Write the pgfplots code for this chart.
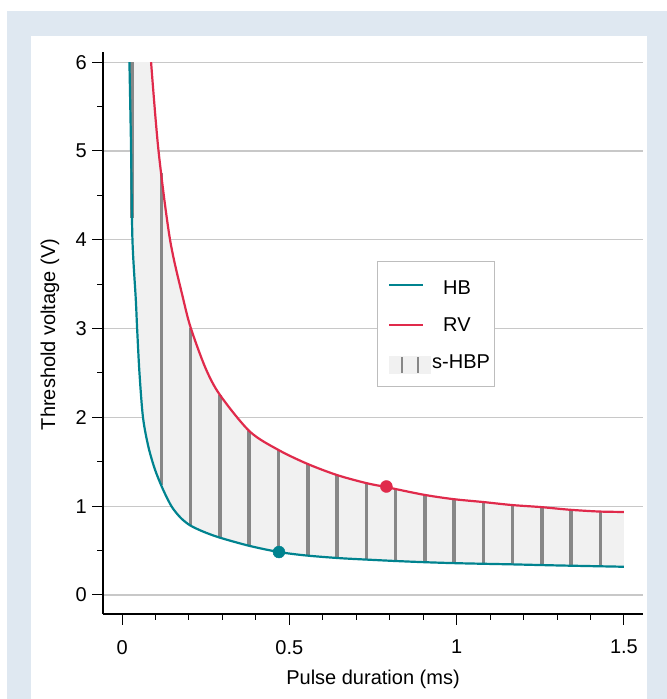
\documentclass[border=0pt]{standalone}
\usepackage{pgfplots}
\pgfplotsset{compat=1.18}
\usepgfplotslibrary{fillbetween}
\usepackage{fontspec}
\setmainfont{Liberation Sans}

\definecolor{frameblue}{HTML}{DFE8F1}
\definecolor{hbcol}{HTML}{00838F}
\definecolor{rvcol}{HTML}{E02A4B}
\definecolor{fillgray}{HTML}{F1F1F1}
\definecolor{stick}{HTML}{878787}
\definecolor{gridgray}{HTML}{C8C8C8}
\definecolor{boxgray}{HTML}{BDBDBD}

% threshold curves (pulse duration in ms, voltage in V)
\pgfplotstableread{
t      v
0.022  6.0
0.027  5.0
0.031  4.0
0.041  3.33
0.045  3.0
0.052  2.5
0.0625 2.0
0.0786 1.67
0.0986 1.41
0.1234 1.18
0.1485 0.994
0.175  0.87
0.203  0.785
0.243  0.713
0.293  0.645
0.382  0.552
0.469  0.484
0.55   0.445
0.65   0.415
0.75   0.395
0.816  0.383
0.9    0.37
1.0    0.358
1.165  0.345
1.3    0.333
1.5    0.318
}\hbdata

\pgfplotstableread{
t      v
0.0867 6.0
0.109  5.0
0.1434 4.0
0.183  3.33
0.206  3.0
0.25   2.55
0.293  2.25
0.382  1.84
0.469  1.63
0.555  1.475
0.643  1.35
0.73   1.26
0.79   1.215
0.9    1.13
0.989  1.08
1.079  1.047
1.165  1.013
1.252  0.99
1.338  0.96
1.425  0.94
1.5    0.935
}\rvdata

\begin{document}
\fontsize{20bp}{24bp}\selectfont
\begin{tikzpicture}
\pgfplotsset{set layers}
\begin{axis}[
  at={(103bp,85bp)}, anchor=south west,
  scale only axis, width=540bp, height=562bp,
  xmin=-0.057, xmax=1.557, ymin=-0.214, ymax=6.115,
  axis x line*=bottom, axis y line*=left,
  axis line style={black, line width=1.3bp, -},
  xtick={0,0.5,1,1.5}, ytick={0,1,2,3,4,5,6},
  minor x tick num=4, minor y tick num=1,
  tick align=outside, major tick length=11bp, minor tick length=6bp,
  tick style={black, line width=1bp},
  ymajorgrids, major grid style={gridgray, line width=1.3bp},
  tick label style={font=\fontsize{20bp}{24bp}\selectfont},
  /pgf/number format/assume math mode=true,
  xticklabel style={anchor=north, inner sep=0pt, yshift=-15bp},
  yticklabel style={anchor=east, inner sep=0pt, xshift=-5bp},
]
\addplot[name path=hb, draw=none, smooth] table[x=t, y=v] {\hbdata};
\addplot[name path=rv, draw=none, smooth] table[x=t, y=v] {\rvdata};
\addplot[fill=fillgray, draw=none] fill between[of=hb and rv];

% vertical bars of the s-HBP region
\addplot[stick, line width=3.5bp, unbounded coords=jump] coordinates {
(0.03,4.25) (0.03,6.0) (0.03,nan)
(0.1175,1.235) (0.1175,4.75) (0.1175,nan)
(0.205,0.78) (0.205,3.01) (0.205,nan)
(0.2925,0.645) (0.2925,2.255) (0.2925,nan)
(0.38,0.553) (0.38,1.845) (0.38,nan)
(0.4675,0.485) (0.4675,1.633) (0.4675,nan)
(0.555,0.445) (0.555,1.475) (0.555,nan)
(0.6425,0.417) (0.6425,1.35) (0.6425,nan)
(0.73,0.398) (0.73,1.26) (0.73,nan)
(0.8175,0.383) (0.8175,1.194) (0.8175,nan)
(0.905,0.369) (0.905,1.127) (0.905,nan)
(0.9925,0.358) (0.9925,1.079) (0.9925,nan)
(1.08,0.351) (1.08,1.047) (1.08,nan)
(1.1675,0.345) (1.1675,1.012) (1.1675,nan)
(1.255,0.337) (1.255,0.989) (1.255,nan)
(1.3425,0.329) (1.3425,0.96) (1.3425,nan)
(1.43,0.323) (1.43,0.94)
};

\addplot[hbcol, line width=2.2bp, smooth] table[x=t, y=v] {\hbdata};
\addplot[rvcol, line width=2.2bp, smooth] table[x=t, y=v] {\rvdata};

\addplot[only marks, mark=*, mark size=6bp, hbcol] coordinates {(0.469,0.484)};
\addplot[only marks, mark=*, mark size=6bp, rvcol] coordinates {(0.79,1.222)};
\end{axis}

% page background and panel, below every axis layer
\begin{pgfonlayer}{axis background}
\fill[white] (0,0) rectangle (667bp,699bp);
\fill[frameblue] (7bp,0) rectangle (667bp,688bp);
\fill[white] (31bp,0) rectangle (647bp,663bp);
\end{pgfonlayer}

% axis titles
\node[anchor=base] at (373bp,15bp) {Pulse duration (ms)};
\node[rotate=90, anchor=base] at (55bp,364.5bp) {Threshold voltage (V)};

% legend
\draw[boxgray, line width=1bp, fill=white] (377bp,312bp) rectangle (494bp,437bp);
\draw[hbcol, line width=2.2bp] (389bp,414bp) -- (423bp,414bp);
\node[anchor=west, inner sep=0pt] at (443bp,411bp) {HB};
\draw[rvcol, line width=2.2bp] (389bp,374bp) -- (423bp,374bp);
\node[anchor=west, inner sep=0pt] at (443bp,374bp) {RV};
\fill[fillgray] (389bp,325bp) rectangle (431bp,343bp);
\draw[stick, line width=2.5bp] (402bp,326bp) -- (402bp,342bp);
\draw[stick, line width=2.5bp] (418bp,326bp) -- (418bp,342bp);
\node[anchor=west, inner sep=0pt] at (432bp,337bp) {s-HBP};
\end{tikzpicture}
\end{document}
